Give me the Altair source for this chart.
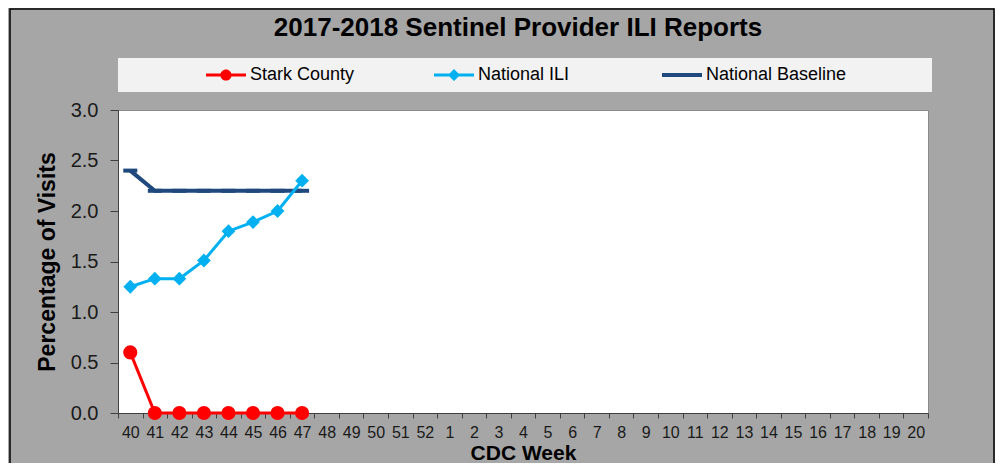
import altair as alt
import pandas as pd

weeks = [str(w) for w in list(range(40, 53)) + list(range(1, 21))]
data_weeks = ["40", "41", "42", "43", "44", "45", "46", "47"]
stark = [0.6, 0.0, 0.0, 0.0, 0.0, 0.0, 0.0, 0.0]
national_ili = [1.25, 1.33, 1.33, 1.51, 1.80, 1.89, 2.00, 2.30]
baseline = [2.4, 2.2, 2.2, 2.2, 2.2, 2.2, 2.2, 2.2]
series_names = ["Stark County", "National ILI", "National Baseline"]
series_colors = ["#ff0000", "#00b0f0", "#1f497d"]

FONT = "Liberation Sans"

df_stark = pd.DataFrame({"week": data_weeks, "value": stark})
df_ili = pd.DataFrame({"week": data_weeks, "value": national_ili})
df_base = pd.DataFrame({"week": data_weeks, "value": baseline})
df_long = pd.DataFrame({
    "week": data_weeks * 3,
    "value": stark + national_ili + baseline,
    "series": [series_names[0]] * 8 + [series_names[1]] * 8 + [series_names[2]] * 8,
})

xenc = alt.X(
    "week:O",
    bandPosition=0.5,
    sort=weeks,
    scale=alt.Scale(type="band", domain=weeks, paddingInner=0, paddingOuter=0),
    axis=alt.Axis(
        title="CDC Week", titleFont=FONT, titleFontSize=21, titleFontWeight="bold",
        titleColor="#000000", titlePadding=2,
        labelFont=FONT, labelFontSize=16, labelColor="#1a1a1a", labelAngle=0,
        labelPadding=6, tickBand="extent", tickSize=5, tickColor="#404040",
        domainColor="#404040", grid=False, labelOverlap=False,
    ),
)
yenc = alt.Y(
    "value:Q",
    scale=alt.Scale(domain=[0, 3]),
    axis=alt.Axis(
        title="Percentage of Visits", titleFont=FONT, titleFontSize=23,
        titleFontWeight="bold", titleColor="#000000", titlePadding=11,
        values=[0, 0.5, 1.0, 1.5, 2.0, 2.5, 3.0], format=".1f",
        labelFont=FONT, labelFontSize=20, labelColor="#1a1a1a", labelPadding=12,
        tickSize=8, tickColor="#404040", domainColor="#404040", grid=False,
    ),
)

one = pd.DataFrame({"k": [0]})

border = alt.Chart(one).mark_rect(fill=None, stroke="#000000", strokeWidth=1.5).encode(
    x=alt.value(-108), x2=alt.value(876), y=alt.value(-101), y2=alt.value(400)
)
legend_box = alt.Chart(one).mark_rect(fill="#f2f2f2").encode(
    x=alt.value(0), x2=alt.value(814), y=alt.value(-52), y2=alt.value(-18)
)

paths = [
    "M-1,-0.075H1V0.075H-1Z M0.28,0A0.28,0.28 0 1,1 -0.28,0A0.28,0.28 0 1,1 0.28,0Z",
    "M-1,-0.075H1V0.075H-1Z M0,-0.3L0.3,0L0,0.3L-0.3,0Z",
    "M-1,-0.1H1V0.1H-1Z",
]
leg = alt.Legend(
    title=None, orient="none", legendX=88, legendY=-55, direction="horizontal",
    columns=3, gridAlign="all", columnPadding=43, symbolSize=1600,
    symbolOpacity=1, symbolStrokeWidth=0, labelFont=FONT, labelFontSize=18,
    labelColor="#000000", labelOffset=4, padding=0,
)
legend_layer = alt.Chart(df_long).mark_point(filled=True, opacity=0).encode(
    x=xenc, y=yenc,
    color=alt.Color("series:N", scale=alt.Scale(domain=series_names, range=series_colors), legend=leg),
    shape=alt.Shape("series:N", scale=alt.Scale(domain=series_names, range=paths), legend=leg),
)

base_line = alt.Chart(df_base).mark_line(color=series_colors[2], strokeWidth=4).encode(x=xenc, y=yenc)
base_pts = alt.Chart(df_base).mark_point(
    shape="M-1,0H1", filled=False, color=series_colors[2], strokeWidth=4, size=196, opacity=1
).encode(x=xenc, y=yenc)

ili_line = alt.Chart(df_ili).mark_line(color=series_colors[1], strokeWidth=3).encode(x=xenc, y=yenc)
ili_pts = alt.Chart(df_ili).mark_point(
    shape="diamond", filled=True, color=series_colors[1], size=190, opacity=1
).encode(x=xenc, y=yenc)

stark_line = alt.Chart(df_stark).mark_line(color=series_colors[0], strokeWidth=3).encode(x=xenc, y=yenc)
stark_pts = alt.Chart(df_stark).mark_circle(color=series_colors[0], size=200, opacity=1).encode(x=xenc, y=yenc)

chart = alt.layer(
    border, legend_box, legend_layer, base_line, base_pts, ili_line, ili_pts, stark_line, stark_pts
).properties(
    width=810, height=303,
    padding={"left": 110, "top": 102, "right": 67, "bottom": 50},
    autosize=alt.AutoSizeParams(type="none"),
    background="#a6a6a6",
    title=alt.Title(
        "2017-2018 Sentinel Provider ILI Reports", font=FONT, fontSize=26,
        fontWeight="bold", color="#000000", anchor="middle", frame="group",
        offset=-54, baseline="alphabetic", dx=-5,
    ),
).configure_view(stroke="#8c8c8c", strokeWidth=1, fill="#ffffff")

chart.save("out.html", embed_options={"renderer": "svg", "actions": False})
